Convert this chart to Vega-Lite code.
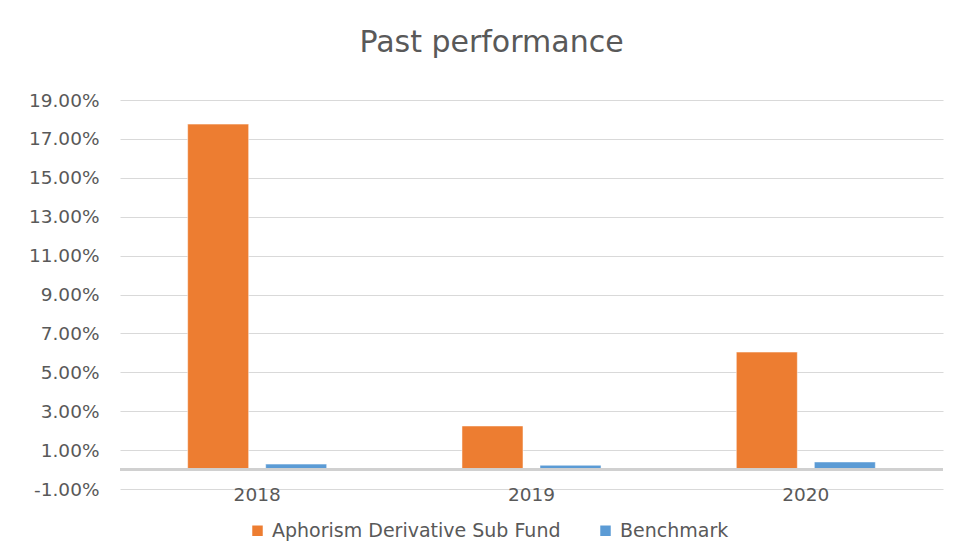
{
  "$schema": "https://vega.github.io/schema/vega-lite/v6.json",
  "autosize": {"type": "none"},
  "width": 823,
  "height": 389,
  "padding": {"left": 120, "top": 100, "right": 16, "bottom": 63},
  "background": "white",
  "title": {
    "text": "Past performance",
    "font": "DejaVu Sans",
    "fontSize": 30,
    "fontWeight": "normal",
    "color": "#595959",
    "anchor": "middle",
    "baseline": "alphabetic",
    "dx": -40,
    "offset": 9
  },
  "data": {
    "values": [
      {"year": "2018", "series": "Aphorism Derivative Sub Fund", "value": 0.1776},
      {"year": "2018", "series": "Benchmark", "value": 0.0028},
      {"year": "2019", "series": "Aphorism Derivative Sub Fund", "value": 0.0224},
      {"year": "2019", "series": "Benchmark", "value": 0.0022},
      {"year": "2020", "series": "Aphorism Derivative Sub Fund", "value": 0.0604},
      {"year": "2020", "series": "Benchmark", "value": 0.0039}
    ]
  },
  "layer": [
    {
      "mark": {"type": "bar", "stroke": "white", "strokeWidth": 0.5},
      "encoding": {
        "x": {
          "field": "year",
          "type": "nominal",
          "scale": {"paddingInner": 0, "paddingOuter": 0},
          "axis": {
            "title": null,
            "labelAngle": 0,
            "ticks": false,
            "domain": false,
            "labelFont": "DejaVu Sans",
            "labelFontSize": 18.5,
            "labelColor": "#595959",
            "labelPadding": -4,
            "grid": false
          }
        },
        "xOffset": {
          "field": "series",
          "type": "nominal",
          "scale": {"paddingInner": 0.218, "paddingOuter": 0.867}
        },
        "y": {
          "field": "value",
          "type": "quantitative",
          "scale": {"domain": [-0.01, 0.19], "nice": false, "zero": false},
          "axis": {
            "title": null,
            "format": ".2%",
            "labelExpr": "replace(format(datum.value, '.2%'), '\u2212', '-')",
            "values": [-0.01, 0.01, 0.03, 0.05, 0.07, 0.09, 0.11, 0.13, 0.15, 0.17, 0.19],
            "tickCount": 30,
            "labelOverlap": false,
            "ticks": false,
            "domain": false,
            "gridColor": "#d9d9d9",
            "gridWidth": 1,
            "labelFont": "DejaVu Sans",
            "labelFontSize": 18.5,
            "labelColor": "#595959",
            "labelPadding": 21
          }
        },
        "y2": {"datum": 0},
        "color": {
          "field": "series",
          "type": "nominal",
          "scale": {
            "domain": ["Aphorism Derivative Sub Fund", "Benchmark"],
            "range": ["#ED7D31", "#5B9BD5"]
          },
          "legend": {
            "title": null,
            "orient": "none",
            "direction": "horizontal",
            "legendX": 128,
            "legendY": 421,
            "symbolType": "square",
            "symbolSize": 110,
            "symbolStrokeWidth": 0,
            "labelFont": "DejaVu Sans",
            "labelFontSize": 19,
            "labelColor": "#595959",
            "labelOffset": 5,
            "columnPadding": 35,
            "labelLimit": 400
          }
        }
      }
    },
    {
      "mark": {"type": "rule", "color": "#d0d0d0", "strokeWidth": 2},
      "encoding": {"y": {"datum": 0}}
    }
  ],
  "config": {"view": {"stroke": null}}
}
